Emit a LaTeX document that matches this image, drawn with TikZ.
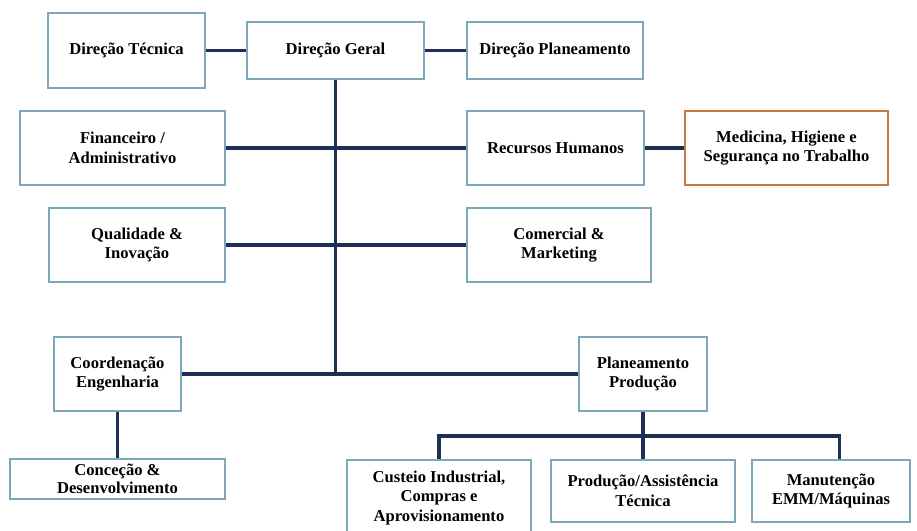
\documentclass[tikz,border=0pt]{standalone}
\usepackage{fontspec}
\setmainfont{Liberation Serif}
\definecolor{orgframe}{RGB}{125,168,186}
\definecolor{orgline}{RGB}{30,47,86}
\definecolor{orgorange}{RGB}{196,122,66}
\usetikzlibrary{positioning,calc}

\begin{document}
\begin{tikzpicture}[x=0.025cm, y=-0.025cm,
  unit/.style={draw=orgframe, line width=0.9pt, fill=white, align=center, inner sep=2pt, font=\fontsize{11.8}{14}\selectfont\bfseries},
  link/.style={draw=orgline, line width=2.4pt}]
  \useasboundingbox[fill=white] (0,0) rectangle (917,531);
  % top management
  \node[unit, minimum width=3.93cm, minimum height=1.88cm] (dtec) at (126.5,50.5) {Direção Técnica};
  \node[unit, minimum width=4.43cm, minimum height=1.43cm] (dger) at (335.5,50.5) {Direção Geral};
  \node[unit, minimum width=4.40cm, minimum height=1.43cm] (dplan) at (555,50.5) {Direção Planeamento};
  % departments
  \node[unit, minimum width=5.13cm, minimum height=1.85cm] (fin) at (122.5,148) {Financeiro /\\Administrativo};
  \node[unit, minimum width=4.43cm, minimum height=1.85cm] (rh) at (555.5,148) {Recursos Humanos};
  \node[unit, draw=orgorange, minimum width=5.08cm, minimum height=1.85cm] (mhst) at (786.5,148) {Medicina, Higiene e\\Segurança no Trabalho};
  \node[unit, minimum width=4.40cm, minimum height=1.85cm] (qual) at (137,245) {Qualidade \&\\Inovação};
  \node[unit, minimum width=4.60cm, minimum height=1.85cm] (com) at (559,245) {Comercial \&\\Marketing};
  \node[unit, minimum width=3.18cm, minimum height=1.85cm] (coord) at (117.5,374) {Coordenação\\Engenharia};
  \node[unit, minimum width=3.20cm, minimum height=1.85cm] (plan) at (643,374) {Planeamento\\Produção};
  % lower level
  \node[unit, inner sep=1pt, font=\fontsize{11.8}{13.2}\selectfont\bfseries, minimum width=5.38cm, minimum height=1.0cm] (conc) at (117.5,479) {Conceção \&\\Desenvolvimento};
  \node[unit, minimum width=4.60cm, minimum height=1.90cm] (cust) at (439,498) {Custeio Industrial,\\Compras e\\Aprovisionamento};
  \node[unit, minimum width=4.60cm, minimum height=1.55cm] (prod) at (643,491) {Produção/Assistência\\Técnica};
  \node[unit, minimum width=3.95cm, minimum height=1.55cm] (manut) at (831,491) {Manutenção\\EMM/Máquinas};

  \coordinate (trunk) at (dger.south |- coord.east);
  \coordinate (bus) at (643,436);
  \coordinate (manin) at ([xshift=0.22cm]manut.north);

  \draw[link] (dtec) -- (dger);
  \draw[link] (dger) -- (dplan);
  \draw[link] (dger.south) -- (trunk);
  \draw[link] (fin) -- (rh);
  \draw[link] (rh) -- (mhst);
  \draw[link] (qual) -- (com);
  \draw[link] (coord) -- (plan);
  \draw[link] (coord) -- (conc);
  \draw[link] (plan.south) -- (bus);
  \draw[link] (cust.north) |- (bus) -| (manin);
  \draw[link] (bus) -- (prod.north);
\end{tikzpicture}
\end{document}
